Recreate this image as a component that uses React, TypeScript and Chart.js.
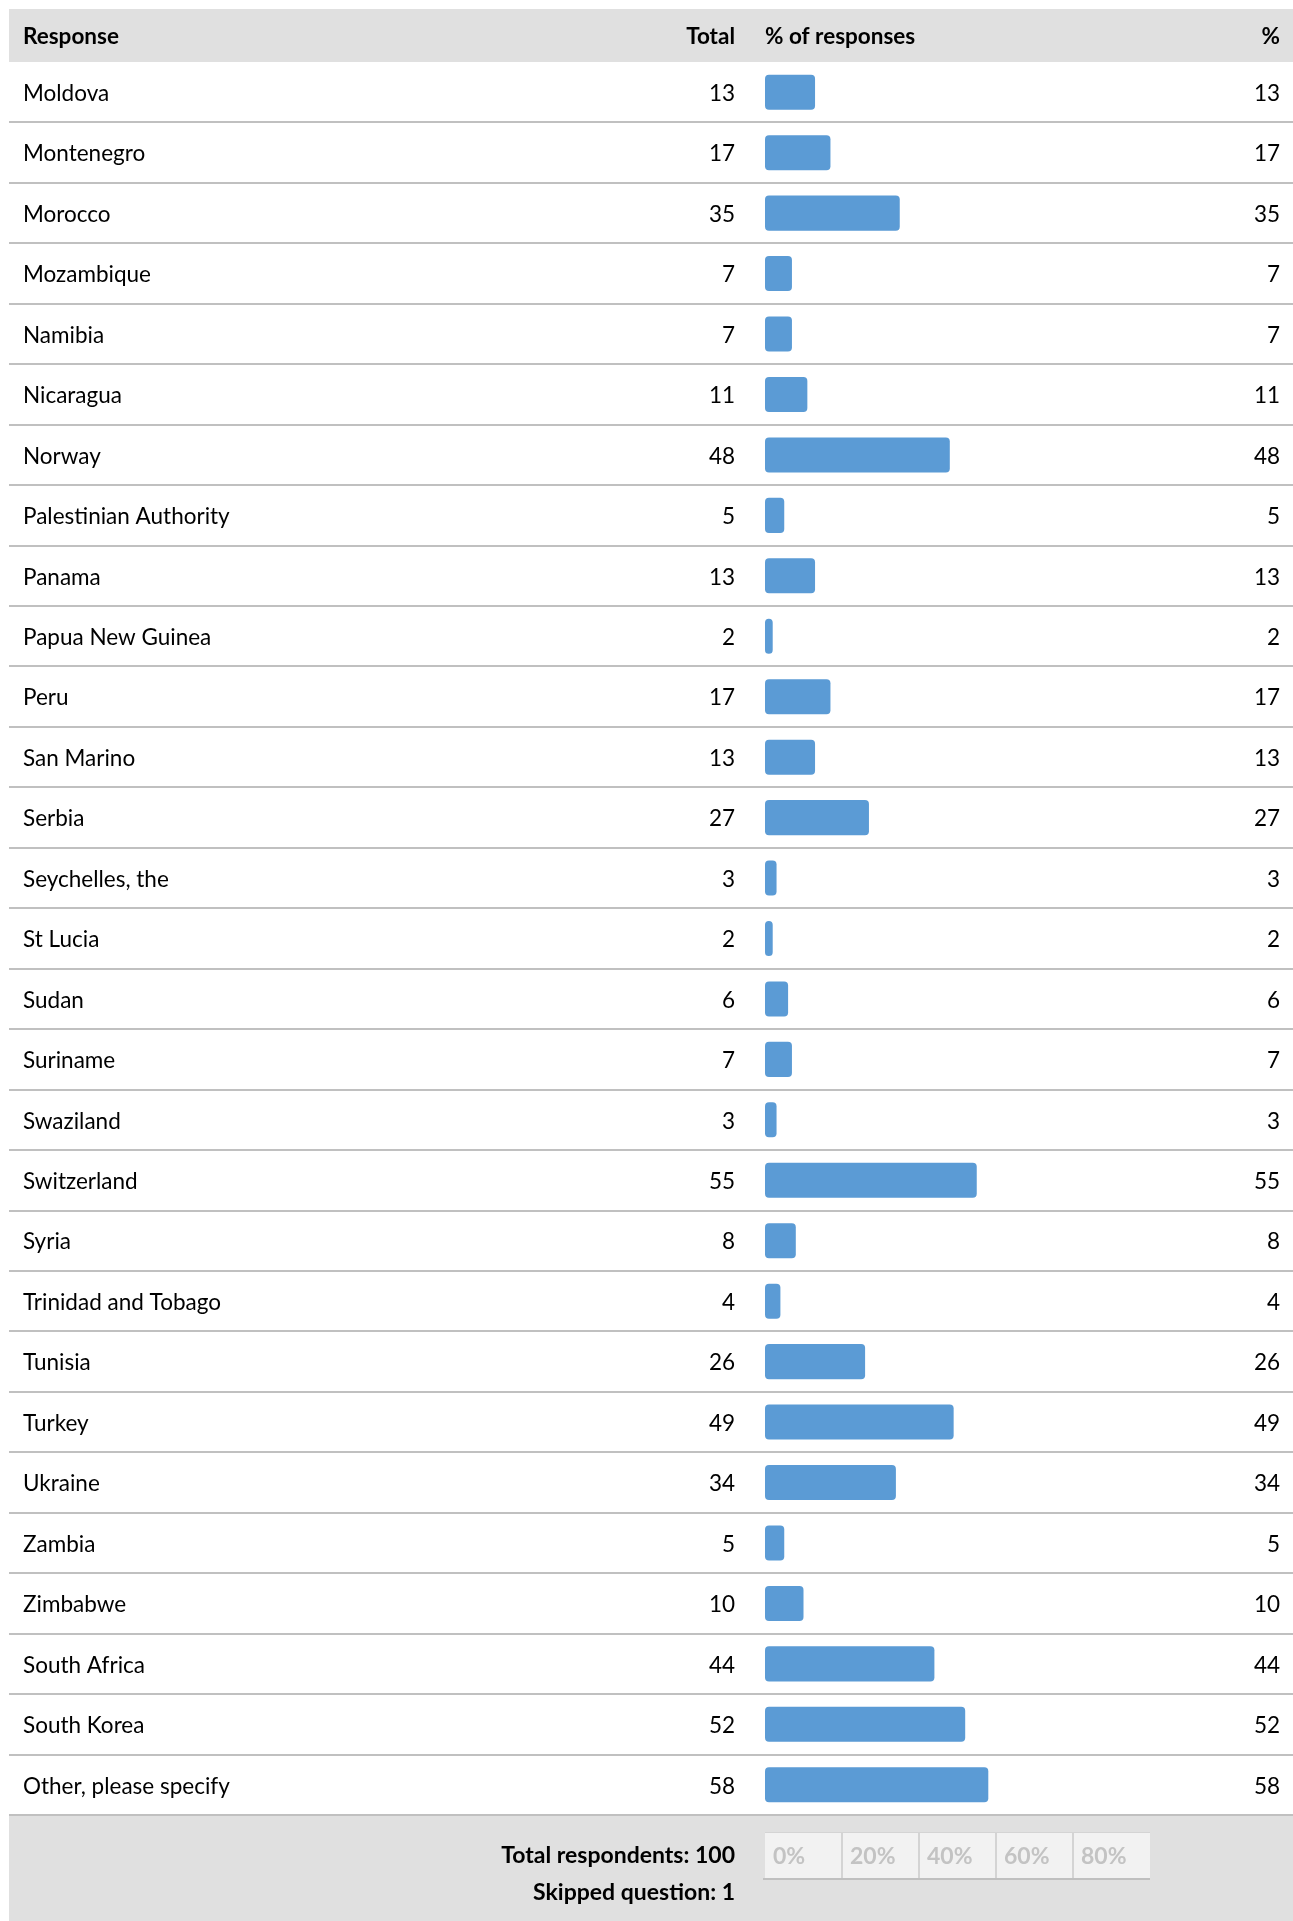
import React, { useEffect, useRef } from "react";
import { Chart, registerables } from "chart.js";

Chart.register(...registerables);

const categories = [
  "Moldova",
  "Montenegro",
  "Morocco",
  "Mozambique",
  "Namibia",
  "Nicaragua",
  "Norway",
  "Palestinian Authority",
  "Panama",
  "Papua New Guinea",
  "Peru",
  "San Marino",
  "Serbia",
  "Seychelles, the",
  "St Lucia",
  "Sudan",
  "Suriname",
  "Swaziland",
  "Switzerland",
  "Syria",
  "Trinidad and Tobago",
  "Tunisia",
  "Turkey",
  "Ukraine",
  "Zambia",
  "Zimbabwe",
  "South Africa",
  "South Korea",
  "Other, please specify",
];

const totals = [13, 17, 35, 7, 7, 11, 48, 5, 13, 2, 17, 13, 27, 3, 2, 6, 7, 3, 55, 8, 4, 26, 49, 34, 5, 10, 44, 52, 58];
const percents = [13, 17, 35, 7, 7, 11, 48, 5, 13, 2, 17, 13, 27, 3, 2, 6, 7, 3, 55, 8, 4, 26, 49, 34, 5, 10, 44, 52, 58];

const axisTicks = [0, 20, 40, 60, 80, 100];
const headerLabels = ["Response", "Total", "% of responses", "%"];
const totalRespondents = 100;
const skippedQuestion = 1;

const W = 1284;
const H = 1912;
const FONT = "Lato, 'Open Sans', sans-serif";
const DY = 1.5;

export default function App() {
  const ref = useRef<HTMLCanvasElement | null>(null);

  useEffect(() => {
    document.body.style.margin = "0";
    document.documentElement.style.overflow = "hidden";
    const canvas = ref.current;
    if (!canvas) return;

    const tablePlugin = {
      id: "tableLayout",
      beforeDatasetsDraw(chart: any) {
        const { ctx, chartArea, scales } = chart;
        const ys = scales.y;
        const xs = scales.x;
        const top = chartArea.top;
        const bottom = chartArea.bottom;
        const pitch = (bottom - top) / categories.length;
        const colTotalRight = 726;
        const colRespLeft = 14;
        const colPctRight = 1271;
        const colBarLeft = xs.getPixelForValue(0);

        ctx.save();
        // header & footer backgrounds
        ctx.fillStyle = "#e0e0e0";
        ctx.fillRect(0, 0, W, top);
        ctx.fillRect(0, bottom, W, H - bottom);

        // separators
        ctx.fillStyle = "#c0c0c0";
        for (let i = 0; i < categories.length; i++) {
          const yb = ys.getPixelForValue(i) + pitch / 2;
          ctx.fillRect(0, Math.round(yb) - 1, W, 2);
        }

        // header text
        ctx.fillStyle = "#000";
        ctx.font = `bold 22.5px ${FONT}`;
        ctx.textBaseline = "middle";
        const hy = top / 2 + DY;
        ctx.textAlign = "left";
        ctx.fillText(headerLabels[0], colRespLeft, hy);
        ctx.textAlign = "right";
        ctx.fillText(headerLabels[1], colTotalRight, hy);
        ctx.textAlign = "left";
        ctx.fillText(headerLabels[2], colBarLeft, hy);
        ctx.textAlign = "right";
        ctx.fillText(headerLabels[3], colPctRight, hy);

        // rows
        ctx.font = `22.5px ${FONT}`;
        for (let i = 0; i < categories.length; i++) {
          const cy = ys.getPixelForValue(i) + DY;
          ctx.textAlign = "left";
          ctx.fillText(categories[i], colRespLeft, cy);
          ctx.textAlign = "right";
          ctx.fillText(String(totals[i]), colTotalRight, cy);
          ctx.fillText(String(percents[i]), colPctRight, cy);
        }

        // footer text
        ctx.font = `bold 23px ${FONT}`;
        ctx.textAlign = "right";
        ctx.fillText(`Total respondents: ${totalRespondents}`, colTotalRight, bottom + 39 + DY);
        ctx.fillText(`Skipped question: ${skippedQuestion}`, colTotalRight, bottom + 76 + DY);

        // footer axis
        const boxTop = bottom + 17;
        const boxBot = bottom + 64;
        const x0 = xs.getPixelForValue(axisTicks[0]);
        const x1 = xs.getPixelForValue(axisTicks[axisTicks.length - 1]);
        ctx.fillStyle = "#f2f2f2";
        ctx.fillRect(x0, boxTop, x1 - x0, boxBot - boxTop);
        ctx.fillStyle = "#d4d4d4";
        ctx.fillRect(x0, boxTop, x1 - x0, 1);
        for (let k = 1; k < axisTicks.length - 1; k++) {
          const px = Math.round(xs.getPixelForValue(axisTicks[k]));
          ctx.fillRect(px - 1, boxTop, 2, boxBot - boxTop);
        }
        ctx.fillStyle = "#c0c0c0";
        ctx.fillRect(x0 - 2, boxBot - 1, x1 - x0 + 2, 2);
        ctx.font = `bold 23px ${FONT}`;
        ctx.fillStyle = "#c3c3c3";
        ctx.textAlign = "left";
        for (let k = 0; k < axisTicks.length - 1; k++) {
          const px = xs.getPixelForValue(axisTicks[k]);
          ctx.fillText(`${axisTicks[k]}%`, px + 8, (boxTop + boxBot) / 2 + DY);
        }
        ctx.restore();
      },
    };

    const chart = new Chart(canvas, {
      type: "bar",
      data: {
        labels: categories,
        datasets: [
          {
            data: percents,
            backgroundColor: "#5b9bd5",
            borderRadius: 4,
            borderSkipped: false,
            barPercentage: 0.58,
            categoryPercentage: 1,
          },
        ],
      },
      options: {
        indexAxis: "y",
        responsive: false,
        maintainAspectRatio: false,
        animation: false,
        devicePixelRatio: 1,
        layout: { padding: { left: 756, right: 143, top: 53, bottom: 106 } },
        plugins: { legend: { display: false }, tooltip: { enabled: false } },
        scales: {
          x: { type: "linear", min: 0, max: 100, display: false },
          y: { type: "category", display: false, offset: true },
        },
      },
      plugins: [tablePlugin],
    });
    return () => chart.destroy();
  }, []);

  return (
    <div style={{ paddingLeft: 9, paddingTop: 9, background: "#fff" }}>
      <canvas ref={ref} width={W} height={H} style={{ display: "block", width: W, height: H }} />
    </div>
  );
}
